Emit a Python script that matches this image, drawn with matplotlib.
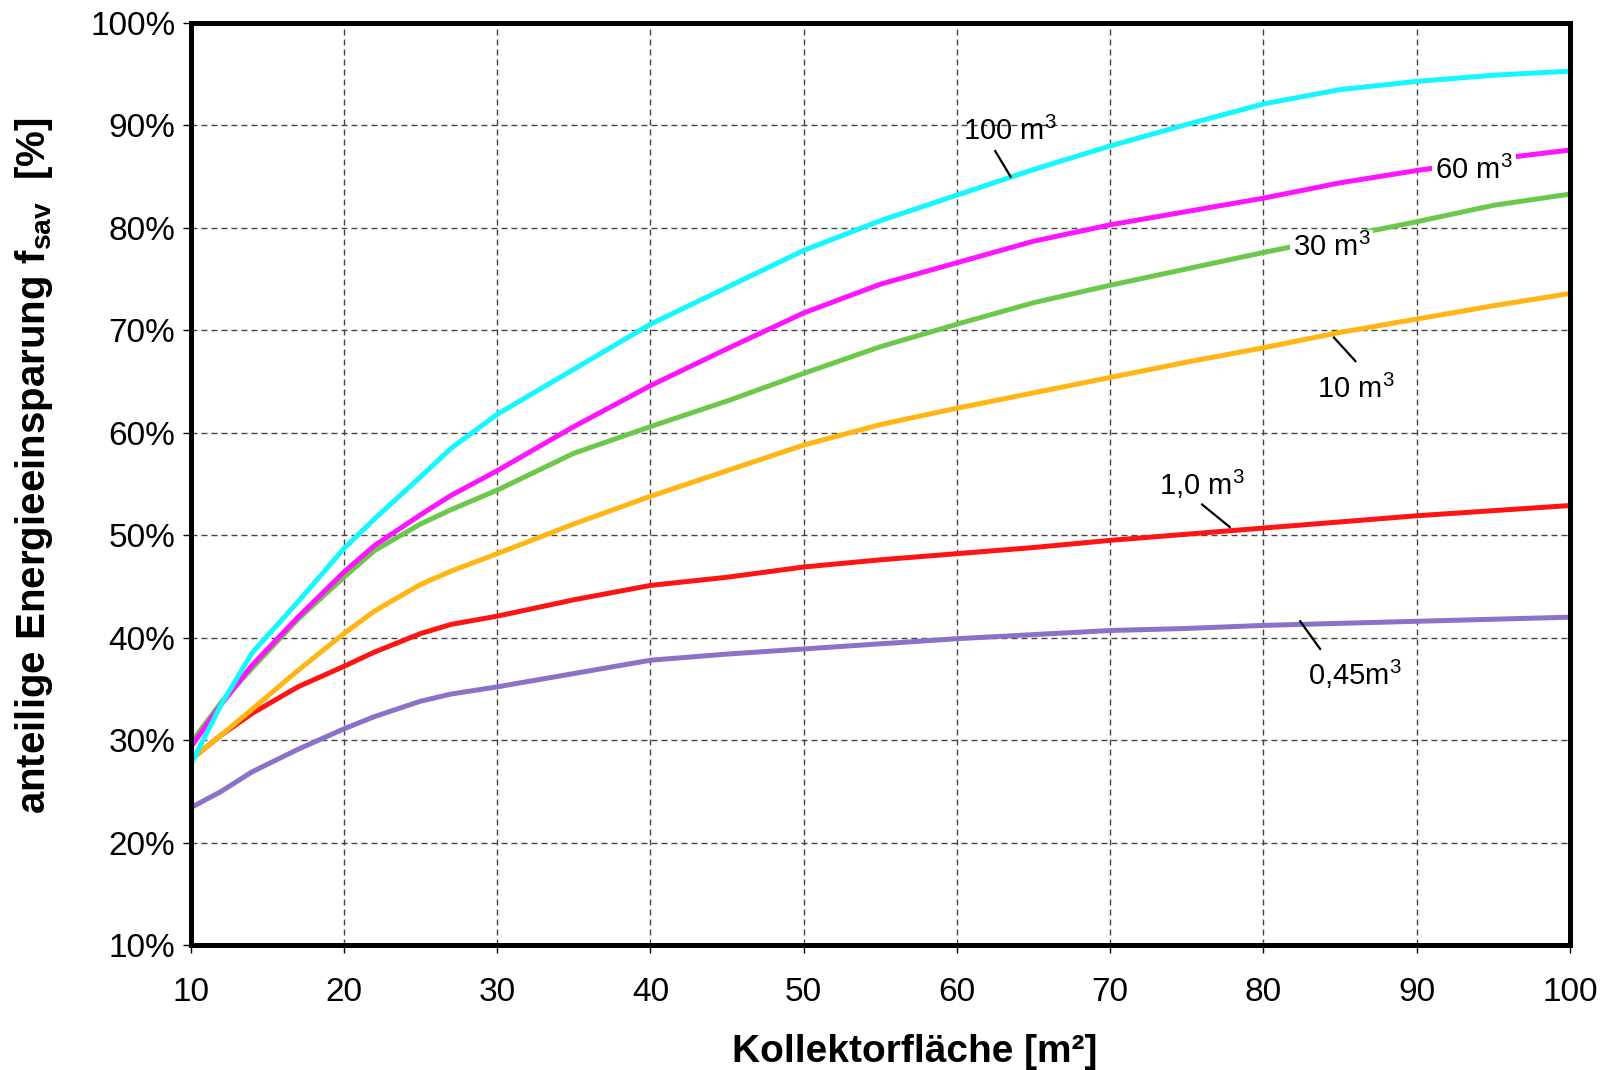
import matplotlib
matplotlib.use("Agg")
import matplotlib.pyplot as plt
import numpy as np

plt.rcParams['font.family'] = ['Liberation Sans', 'DejaVu Sans']
plt.rcParams['mathtext.fontset'] = 'custom'
plt.rcParams['mathtext.rm'] = 'Liberation Sans'
plt.rcParams['mathtext.it'] = 'Liberation Sans:italic'
plt.rcParams['mathtext.bf'] = 'Liberation Sans:bold'
plt.rcParams['lines.scale_dashes'] = False

# ---- data ----
area = [10, 12, 14, 17, 20, 22, 25, 27, 30, 35, 40, 45, 50, 55, 60, 65, 70, 75, 80, 85, 90, 95, 100]

f_100 = [27.6, 33.5, 38.5, 43.5, 48.7, 51.6, 55.7, 58.5, 61.8, 66.2, 70.6, 74.2, 77.8, 80.7, 83.2, 85.7, 88.0, 90.1, 92.1, 93.5, 94.3, 94.9, 95.3]
f_60 = [29.3, 33.5, 37.3, 42.0, 46.4, 49.0, 52.0, 53.9, 56.3, 60.6, 64.6, 68.2, 71.7, 74.5, 76.6, 78.7, 80.3, 81.6, 82.9, 84.4, 85.6, 86.7, 87.6]
f_30 = [29.7, 33.7, 37.0, 41.8, 45.9, 48.5, 51.1, 52.5, 54.4, 58.0, 60.6, 63.1, 65.8, 68.4, 70.6, 72.7, 74.4, 76.0, 77.6, 79.1, 80.6, 82.2, 83.3]
f_10 = [28.1, 30.5, 33.0, 36.8, 40.4, 42.6, 45.2, 46.5, 48.2, 51.1, 53.8, 56.3, 58.8, 60.8, 62.4, 63.9, 65.4, 66.9, 68.3, 69.8, 71.1, 72.4, 73.6]
f_1 = [28.1, 30.5, 32.6, 35.2, 37.2, 38.6, 40.4, 41.3, 42.1, 43.7, 45.1, 45.9, 46.9, 47.6, 48.2, 48.8, 49.5, 50.1, 50.7, 51.3, 51.9, 52.4, 52.9]
f_045 = [23.4, 25.0, 26.9, 29.1, 31.1, 32.3, 33.8, 34.5, 35.2, 36.5, 37.8, 38.4, 38.9, 39.4, 39.9, 40.3, 40.7, 40.9, 41.2, 41.4, 41.6, 41.8, 42.0]

series = [f_045, f_1, f_10, f_30, f_60, f_100]
colors = ['#8B72C8', '#FF1414', '#FFB514', '#6CC84A', '#FF14FF', '#14F7FF']

labels = [r'100 m$^{\mathregular{3}}$', r'60 m$^{\mathregular{3}}$', r'30 m$^{\mathregular{3}}$',
          r'10 m$^{\mathregular{3}}$', r'1,0 m$^{\mathregular{3}}$', r'0,45m$^{\mathregular{3}}$']
label_x = [60.4, 91.2, 81.9, 83.5, 73.2, 82.9]
label_y = [88.6, 84.8, 77.25, 63.4, 53.9, 35.4]
label_box = [False, True, True, False, False, False]

# leader lines (x0, x1), (y0, y1)
leader_x = [(62.5, 63.5), (84.6, 86.0), (76.0, 77.8), (82.4, 83.7)]
leader_y = [(87.5, 85.0), (69.3, 67.0), (53.0, 50.8), (41.6, 38.9)]

xticks = [10, 20, 30, 40, 50, 60, 70, 80, 90, 100]
yticks = [10, 20, 30, 40, 50, 60, 70, 80, 90, 100]
ytick_labels = [f'{v}%' for v in yticks]

# ---- figure ----
fig = plt.figure(figsize=(16.13, 10.70), dpi=100)
ax = fig.add_axes([0.1182, 0.1168, 0.9733 - 0.1182, 0.9785 - 0.1168])

for ys, c in zip(series, colors):
    ax.plot(area, ys, color=c, lw=3.6, solid_joinstyle='round', solid_capstyle='butt', zorder=3)

for (x0, x1), (y0, y1) in zip(leader_x, leader_y):
    ax.plot([x0, x1], [y0, y1], color='black', lw=1.6, zorder=4)

for txt, x, y, box in zip(labels, label_x, label_y, label_box):
    kw = {}
    if box:
        kw['bbox'] = dict(facecolor='white', edgecolor='none', pad=2)
    ax.text(x, y, txt, fontsize=21, ha='left', va='baseline', zorder=5, **kw)

ax.set_xlim(10, 100)
ax.set_ylim(10, 100)
ax.set_xticks(xticks)
ax.set_xticklabels([str(v) for v in xticks])
ax.set_yticks(yticks)
ax.set_yticklabels(ytick_labels)
ax.tick_params(axis='both', labelsize=24, length=6, width=1, direction='out')
ax.tick_params(axis='y', pad=5)
ax.tick_params(axis='x', pad=17)

ax.grid(True, color='#444444', lw=1.0, linestyle=(0, (4.3, 2.9)), zorder=1)
ax.set_axisbelow(True)

for s in ax.spines.values():
    s.set_linewidth(3.6)
    s.set_zorder(6)

fig.text(0.567, 0.017, 'Kollektorfläche [m²]', fontsize=28, fontweight='bold',
         ha='center', va='center')
fig.text(0.021, 0.565, r'anteilige Energieeinsparung f$_{\mathbf{sav}}$  [%]', fontsize=29,
         fontweight='bold', rotation=90, ha='center', va='center')

fig.savefig('out.png', dpi=100)
